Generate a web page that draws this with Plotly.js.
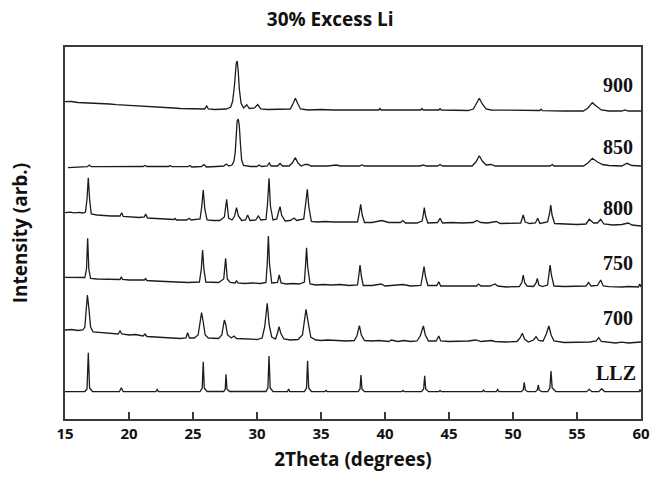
<!DOCTYPE html>
<html>
<head>
<meta charset="utf-8">
<script src="https://cdn.plot.ly/plotly-3.0.1.min.js"></script>
<style>
  html, body { margin: 0; padding: 0; background: #fff; }
  #chart { width: 650px; height: 484px; }
</style>
</head>
<body>
<div id="chart"></div>
<script>
// XRD patterns of LLZ samples (30% excess Li), stacked with vertical offsets.
// Each pattern is a list of [2theta, stacked intensity] points.

const sampleNames = ["900", "850", "800", "750", "700", "LLZ"];

const pattern900 = [
  [15,317.3],[15.5,317.5],[16,316.5],[16.5,316.3],[17,316],[17.5,315.5],[18,315.2],[18.5,315],
  [19,314.3],[19.5,314],[20,313.5],[20.5,313],[21,312.8],[21.5,312.5],[22,312],[22.5,311.8],
  [23,311.3],[23.5,311],[24,310.5],[24.5,310.5],[25,310],[25.5,310],[25.9,310],[26.07,313],
  [26.2,310],[26.7,309.5],[27.2,309.5],[27.6,310],[27.95,312],[28.1,318],[28.25,335],[28.37,355],
  [28.45,358],[28.52,350],[28.62,330],[28.75,316],[28.95,311],[29.2,314.3],[29.4,310.5],[29.8,311],
  [30.05,314.5],[30.3,310],[30.8,309.5],[31.5,309.5],[32.2,309.5],[32.6,310],[32.8,315],[33.0,320.7],
  [33.2,315],[33.4,310],[34,309],[35,309.5],[36,309],[37,309],[38,309],[39.5,309],[39.6,310.5],
  [39.7,309],[41,309],[42.8,309],[42.87,310.5],[43,309],[44.2,309],[44.3,310.3],[44.4,309],
  [45.5,309],[46.5,308.5],[46.9,310],[47.15,316],[47.37,320.7],[47.6,315],[47.9,310],[48.3,309],
  [50,308.5],[52.1,308.5],[52.2,309.8],[52.3,308.3],[54,308],[55.5,308],[55.85,311],[56.2,316.3],
  [56.5,313],[56.9,309],[57.5,308],[58.5,308],[58.75,309],[59,308],[60,308]
];

const pattern850 = [
  [15.23,251.3],[16,252],[16.75,252.3],[16.9,254],[17.05,252.3],[18,252.3],[19,252.5],[20,252.5],
  [21.1,252.5],[21.25,253.5],[21.4,252.5],[22.5,252.5],[23.1,252.5],[23.2,253.5],[23.35,252.3],
  [24.6,252.3],[24.77,253.5],[24.9,252],[25.65,252.5],[25.86,254.5],[26.05,252],[26.8,252.5],
  [27.4,253],[27.6,255],[27.8,253],[28.05,254],[28.2,258],[28.3,267],[28.38,286],[28.45,298],
  [28.54,300],[28.62,293],[28.7,276],[28.8,259],[28.95,253.5],[29.5,252.5],[30.0,252.5],
  [30.16,254],[30.35,252.5],[30.8,253],[30.96,256],[31.1,253],[31.6,253],[31.8,255.5],[32.0,253],
  [32.5,253],[32.75,256],[33.0,261.3],[33.2,256],[33.45,253],[33.75,254.5],[34.0,254.5],[34.2,253],
  [35.5,253],[36.2,254],[36.5,253],[38.0,253],[38.2,254],[38.4,253],[42.7,253],[43.0,254],
  [43.2,253],[44.1,253],[44.3,254.5],[44.5,253],[46.8,253],[47.1,257],[47.37,263.3],[47.6,258],
  [47.9,254],[48.3,254.5],[48.6,253],[52.9,253],[53.07,254.5],[53.2,253],[55.5,253],[55.85,256],
  [56.2,260.7],[56.6,257],[57.0,254.5],[57.5,253.5],[58.5,253],[58.9,255.7],[59.3,253.5],[60,253]
];

const pattern800 = [
  [15,206.3],[15.4,206.8],[15.7,206.2],[16.1,206.6],[16.4,206],[16.6,207],[16.72,220],[16.82,241.3],
  [16.92,220],[17.05,205],[17.5,204],[18,203.5],[18.6,203],[19.3,203],[19.43,206.3],[19.55,202.5],
  [20.2,202],[20.8,201.5],[21.2,202],[21.3,205],[21.45,201],[22,200.5],[22.6,200],[23.5,199.5],
  [23.6,200.5],[23.7,199],[24.5,199],[24.7,200.7],[24.85,199],[25.55,200],[25.68,212],[25.8,229],
  [25.92,210],[26.1,199],[26.6,198.5],[27.1,198.5],[27.45,202],[27.63,219.7],[27.78,201],
  [28.05,199],[28.25,203],[28.4,211.3],[28.55,203],[28.8,198.5],[29.1,199],[29.27,204],
  [29.45,198.5],[29.9,199],[30.1,203],[30.3,199],[30.7,199.5],[30.82,215],[30.94,240.7],
  [31.05,213],[31.25,199],[31.55,200],[31.7,208],[31.8,212.3],[31.92,204],[32.2,198],[32.6,198.5],
  [32.9,201],[33.1,198.5],[33.65,200],[33.8,215],[33.93,229.7],[34.05,212],[34.25,197.5],
  [34.7,197],[35.3,197.5],[36,197],[36.7,197],[37.3,196.5],[37.85,197],[37.98,205],[38.1,214.7],
  [38.22,204],[38.4,196.5],[39,196.5],[39.74,198.5],[40.3,196.5],[41.2,196.5],[41.4,198.5],
  [41.6,196],[42.5,196],[42.9,198],[43.0,205],[43.07,211.3],[43.17,203],[43.35,196],[44.1,196.5],
  [44.3,200.7],[44.5,196],[45.2,196.5],[46,196],[46.9,196.5],[47.16,198.5],[47.5,196.5],[48,196],
  [48.7,197.5],[49,195.5],[49.8,195.5],[50.6,196],[50.8,204],[50.95,197],[51.3,195.5],[51.75,196],
  [51.93,200.7],[52.1,195.5],[52.7,197],[52.85,205],[52.95,214],[53.05,204],[53.25,195.5],
  [54,195],[55,194.5],[55.7,195],[55.96,199.7],[56.3,196],[56.6,196],[56.85,199.7],[57.1,195],
  [57.8,194],[58.5,194.5],[59.0,196],[59.3,194],[60,193]
];

const pattern750 = [
  [15,141.7],[15.6,141.5],[16.2,141],[16.55,141.5],[16.68,150],[16.77,180.7],[16.86,150],
  [17.0,140.5],[17.5,140],[18,140],[18.6,139.5],[19.3,139.5],[19.4,142.3],[19.5,139.5],[20,139],
  [20.6,139],[21.2,139],[21.3,140.5],[21.4,138.5],[22,138],[23,137.5],[23.6,137],[24.0,137.5],
  [24.6,136.5],[25.5,137],[25.65,150],[25.75,169],[25.85,150],[26.0,137],[26.5,136.5],[27.0,136.5],
  [27.4,140],[27.55,160.7],[27.68,140],[27.9,136.5],[28.3,136],[28.4,138.5],[28.5,136],[29,135.5],
  [29.7,136],[30.3,135.5],[30.7,136.5],[30.8,155],[30.89,183],[30.98,155],[31.15,136],[31.6,136.5],
  [31.74,144],[31.88,136],[32.3,135],[32.8,135.5],[33.3,135],[33.7,137],[33.8,155],[33.87,171.3],
  [33.96,152],[34.15,135],[34.6,134],[35.2,134.5],[35.8,134],[36.5,134.5],[37.2,133.5],
  [37.85,134],[37.95,143],[38.05,154],[38.15,143],[38.3,133.5],[39,133.5],[39.7,135],[40,133],
  [41.4,134.5],[42,133],[42.8,133.5],[42.93,143],[43.05,152.3],[43.17,142],[43.35,133.5],
  [44.05,133.5],[44.2,137.3],[44.35,133],[45,133],[46,133.5],[47.15,133],[47.3,135],[47.5,133],
  [48.2,133],[48.6,135],[48.8,133],[49.5,132],[50.5,132.5],[50.7,137],[50.8,144],[50.92,136],
  [51.1,133],[51.6,132.5],[51.8,136],[51.9,140.7],[52.02,134],[52.3,132.5],[52.7,134],[52.83,145],
  [52.9,154],[53.0,144],[53.2,133],[54,132.5],[55,132.5],[55.7,133],[55.9,136.7],[56.1,133],
  [56.6,133.5],[56.85,139],[57.05,133],[57.5,132.3],[58.5,132],[59,132.5],[59.8,132],[59.9,135],
  [60,132]
];

const pattern700 = [
  [15,89],[15.5,89.5],[16,88.5],[16.4,89],[16.55,92],[16.65,110],[16.75,124],[16.87,110],[17.0,92],
  [17.2,87],[17.6,86.5],[18,86],[18.5,85.5],[19.15,85],[19.3,88],[19.45,85],[20,84],[20.5,84.5],
  [21.1,83],[21.25,85],[21.4,82.5],[22,82],[22.5,81.5],[23,81],[23.5,80.5],[24.0,80.5],[24.45,81],
  [24.58,86.3],[24.72,81],[25.1,81],[25.4,84],[25.55,97],[25.67,106.3],[25.8,97],[25.95,84],
  [26.2,81],[26.6,80.5],[27.0,80.5],[27.25,84],[27.38,95],[27.45,99],[27.55,95],[27.7,84],[28.0,81],
  [28.2,83],[28.4,80.5],[29,80],[29.5,80],[30.0,79.5],[30.4,81],[30.6,92],[30.8,115.7],[30.95,94],
  [31.15,82],[31.45,80],[31.6,86],[31.72,92.3],[31.85,86],[32.1,80],[32.6,79],[33.2,79.5],
  [33.55,84],[33.7,100],[33.83,109.7],[33.98,98],[34.2,82],[34.6,79],[35,78.5],[35.5,79],[36,78.5],
  [36.5,78],[37,78],[37.6,78.5],[37.8,83],[38.0,93.3],[38.15,84],[38.4,78.5],[39,78],[39.5,78.5],
  [40.3,77.5],[40.5,79],[41,77.5],[41.5,78.5],[42,77.5],[42.5,78],[42.75,83],[43.0,93],[43.15,84],
  [43.4,78],[44.0,78],[44.2,83],[44.35,78],[45,77.5],[46,77.5],[46.5,78],[47.1,79],[47.5,77.5],
  [48.3,78.5],[48.6,77.5],[49.5,77],[50.3,77.5],[50.55,81],[50.73,85.7],[50.9,80],[51.2,77],
  [51.6,79],[51.8,82.3],[52.0,78.5],[52.35,78],[52.6,85],[52.8,93],[52.98,84],[53.2,78],[54,76.5],
  [55,77],[55.5,76.5],[56,77],[56.5,78],[56.7,81.3],[56.9,77.5],[57.5,76.5],[58,76],[58.5,76.8],
  [59,76],[59.5,76.5],[60,77]
];

const patternLLZ = [
  [15,27.3],[16.55,27.5],[16.72,30],[16.82,66.3],[16.92,31],[17.15,27.5],[19.25,27.3],[19.4,31.3],
  [19.55,27.3],[22.1,27.3],[22.2,29.5],[22.3,27.3],[25.55,27.5],[25.72,31],[25.8,57.3],[25.88,31],
  [26.1,27.5],[27.4,27.5],[27.52,30],[27.58,44.7],[27.65,30],[27.85,27.5],[30.7,27.5],[30.85,31],
  [30.94,63],[31.03,31],[31.25,27.5],[32.38,27.3],[32.47,30],[32.56,27.3],[33.7,27.5],[33.87,31],
  [33.95,58.3],[34.04,31],[34.25,27.5],[35.3,27.3],[35.4,28.5],[35.5,27.3],[37.9,27.3],[38.05,30],
  [38.12,44],[38.2,30],[38.4,27.3],[41.3,27.3],[41.4,28.5],[41.5,27.3],[42.85,27.3],[43.02,30],
  [43.1,43.3],[43.18,30],[43.4,27.3],[44.2,27.3],[44.3,28.5],[44.4,27.3],[47.6,27.3],[47.7,29],
  [47.8,27.3],[48.7,27.3],[48.8,29.5],[48.9,27.3],[50.65,27.3],[50.8,29],[50.88,36.7],[50.96,29],
  [51.15,27.3],[51.75,27.3],[51.9,29],[51.97,34],[52.05,29],[52.25,27.3],[52.72,27.5],[52.88,31],
  [52.97,48],[53.06,31],[53.35,27.5],[55.75,27.3],[55.96,29.7],[56.15,27.3],[56.7,27.3],
  [56.93,30.3],[57.15,27.3],[59.85,27.3],[59.92,29.5],[60,27.3]
];

const patterns = [pattern900, pattern850, pattern800, pattern750, pattern700, patternLLZ];
const xTickVals = [15, 20, 25, 30, 35, 40, 45, 50, 55, 60];

const traces = patterns.map((pts, i) => ({
  type: "scatter",
  mode: "lines",
  name: sampleNames[i],
  x: pts.map(p => p[0]),
  y: pts.map(p => p[1]),
  line: { color: "#1c1c1c", width: 1.3 },
  hoverinfo: "x+name",
  showlegend: false
}));

// label placement (right-aligned at the end of each pattern)
const labelY = [334, 272.3, 210.7, 155.7, 100.7, 46.3];
const labelX = [59.55, 59.55, 59.55, 59.55, 59.55, 59.8];

const annotations = sampleNames.map((name, i) => ({
  text: "<b>" + name + "</b>",
  x: labelX[i],
  y: labelY[i],
  xref: "x",
  yref: "y",
  xanchor: "right",
  yanchor: "middle",
  showarrow: false,
  font: { family: "Liberation Serif", size: 20, color: "#111" }
}));

const sans = "Open Sans";

const layout = {
  width: 650,
  height: 484,
  margin: { l: 65, r: 9, t: 47, b: 65 },
  paper_bgcolor: "#fff",
  plot_bgcolor: "#fff",
  title: {
    text: "30% Excess Li",
    font: { family: sans, size: 19, weight: 700, color: "#111" },
    x: 0.508, xanchor: "center",
    y: 0.96, yanchor: "middle"
  },
  xaxis: {
    range: [15, 60],
    tickvals: xTickVals,
    ticks: "inside",
    ticklen: 7,
    tickwidth: 1.3,
    tickcolor: "#3a3a3a",
    showline: true,
    linecolor: "#3a3a3a",
    linewidth: 1.6,
    mirror: true,
    showgrid: false,
    zeroline: false,
    tickfont: { family: sans, size: 15, weight: 700, color: "#111" },
    title: {
      text: "2Theta (degrees)",
      font: { family: sans, size: 19, weight: 700, color: "#111" },
      standoff: 11
    }
  },
  yaxis: {
    range: [0, 372],
    showticklabels: false,
    ticks: "",
    showline: true,
    linecolor: "#3a3a3a",
    linewidth: 1.6,
    mirror: true,
    showgrid: false,
    zeroline: false,
    title: {
      text: "Intensity (arb.)",
      font: { family: sans, size: 19, weight: 700, color: "#111" },
      standoff: 31
    }
  },
  annotations: annotations
};

Plotly.newPlot("chart", traces, layout, { displayModeBar: false, staticPlot: true });
</script>
</body>
</html>
